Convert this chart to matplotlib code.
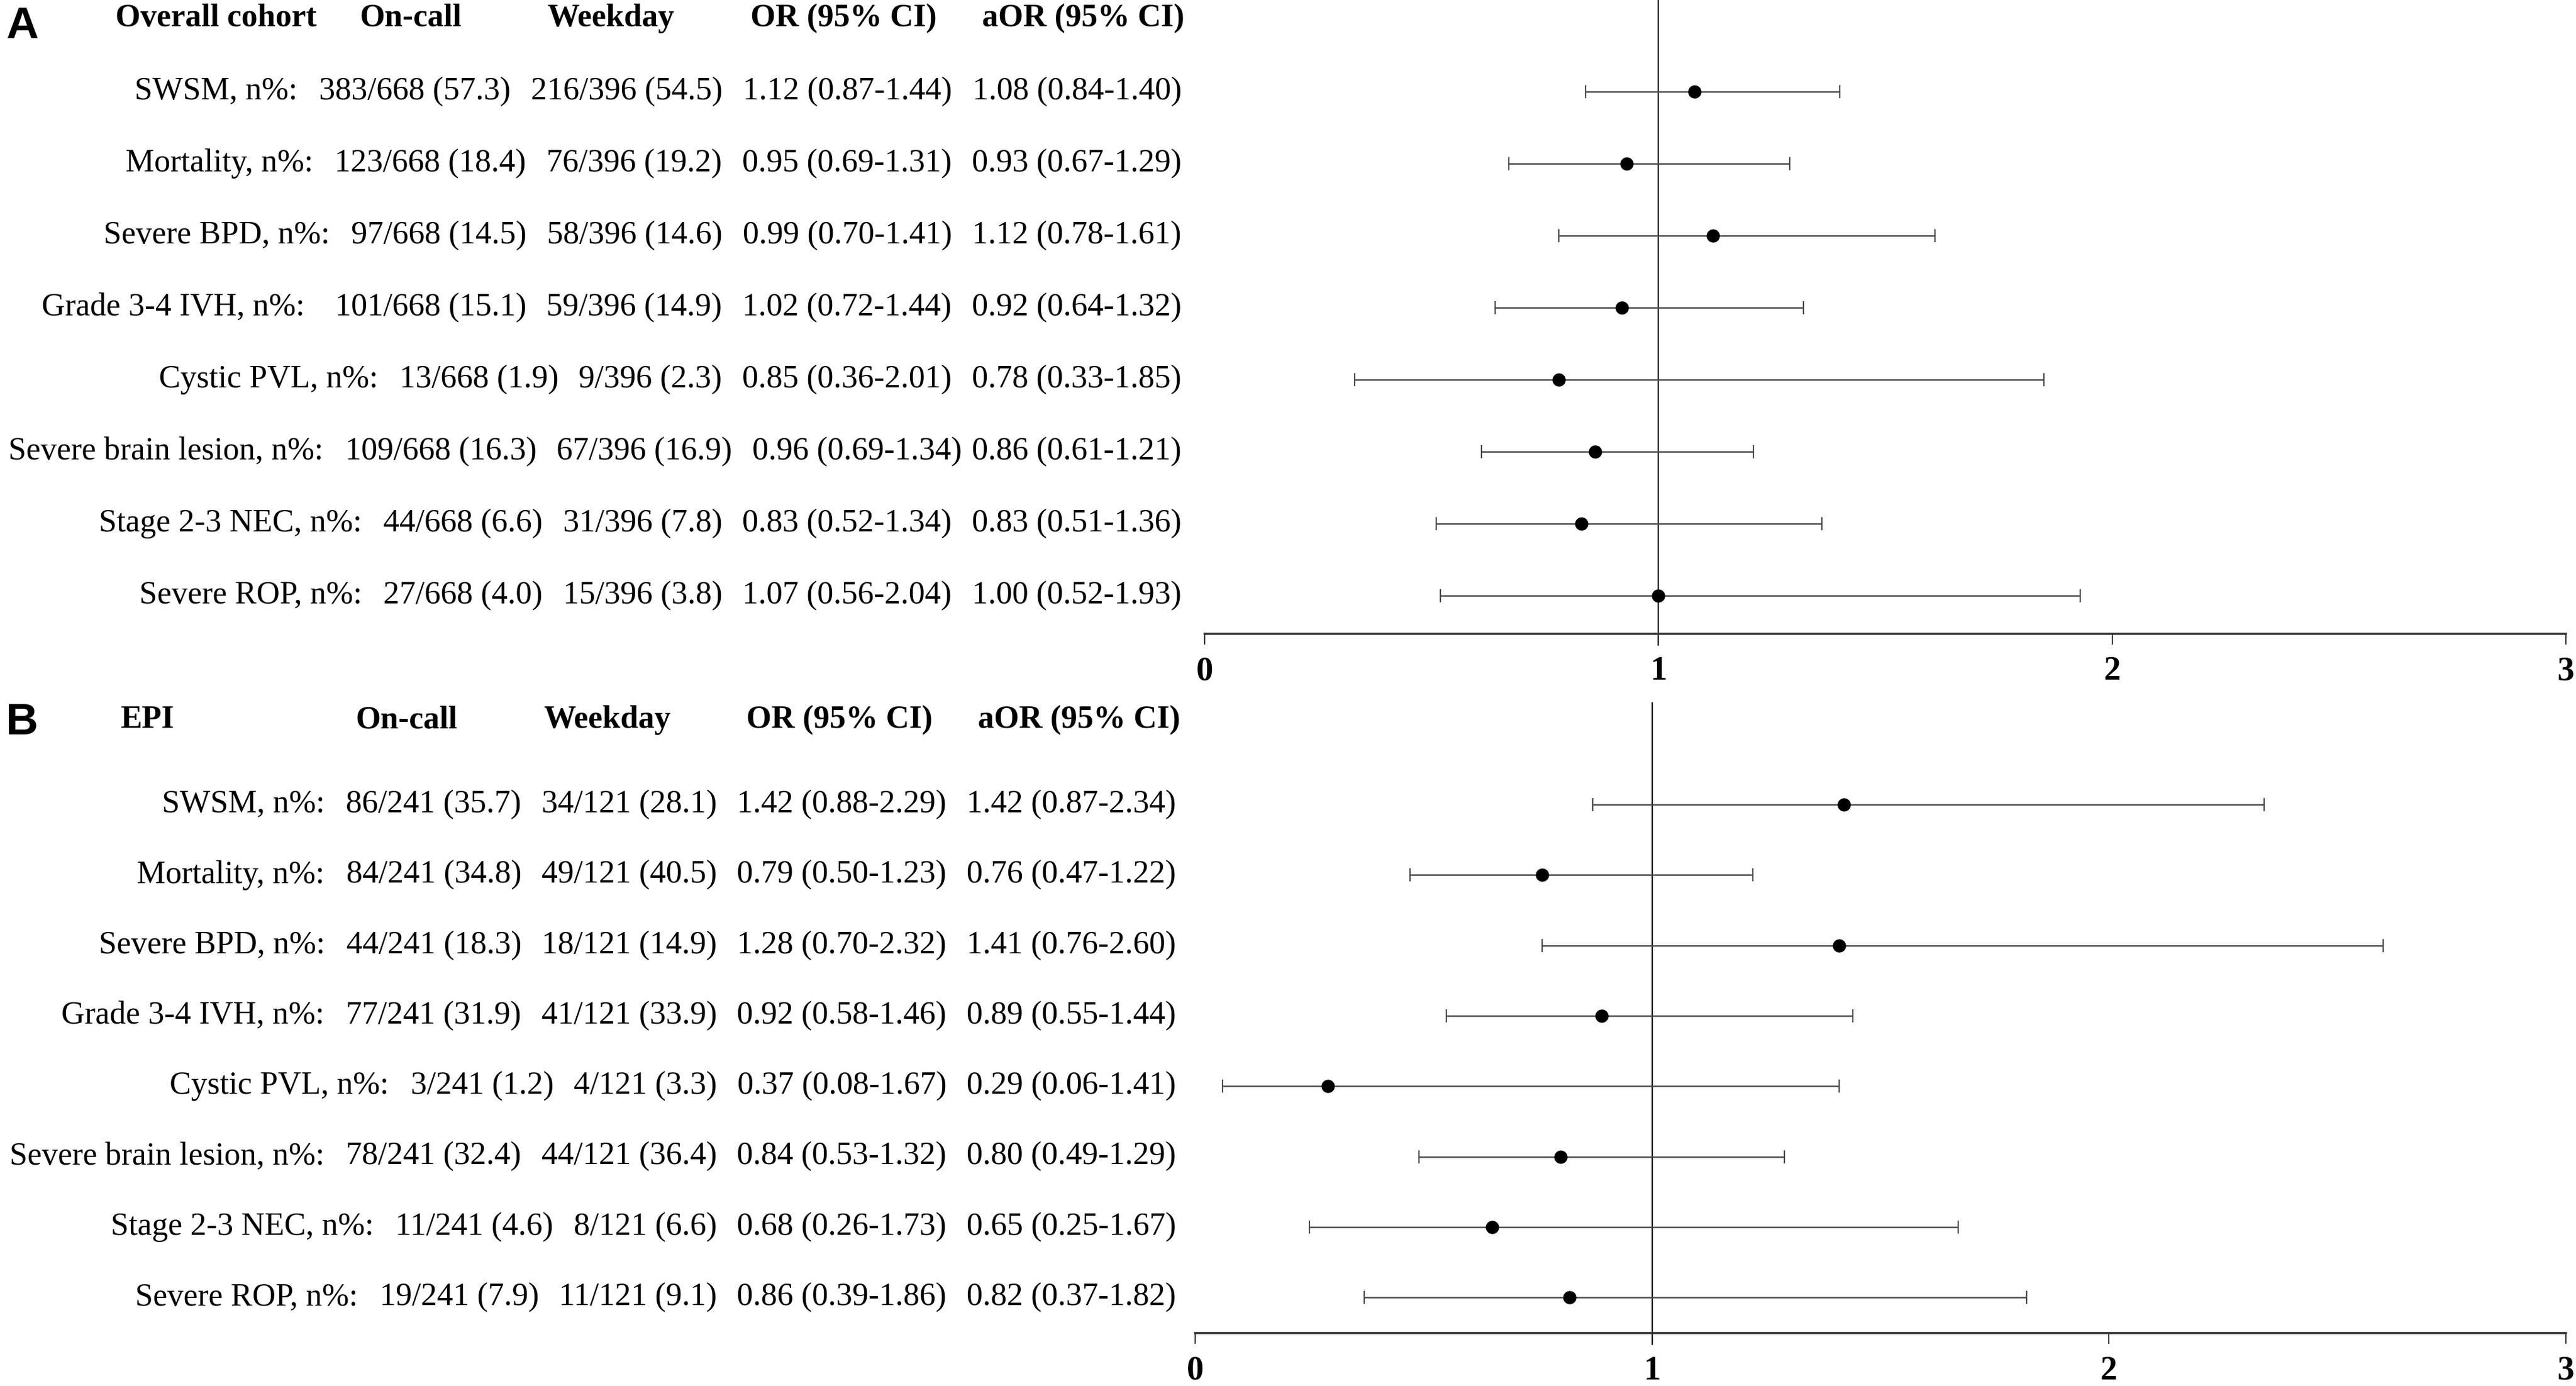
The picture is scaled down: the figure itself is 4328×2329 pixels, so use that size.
import matplotlib
matplotlib.use("Agg")
import matplotlib.pyplot as plt
from matplotlib.transforms import blended_transform_factory

# ---------------- data ----------------
outcomes = ["SWSM", "Mortality", "Severe BPD", "Grade 3-4 IVH", "Cystic PVL",
            "Severe brain lesion", "Stage 2-3 NEC", "Severe ROP"]

# Panel A: overall cohort
a_on_n = [383, 123, 97, 101, 13, 109, 44, 27]
a_on_tot = 668
a_on_pct = [57.3, 18.4, 14.5, 15.1, 1.9, 16.3, 6.6, 4.0]
a_wk_n = [216, 76, 58, 59, 9, 67, 31, 15]
a_wk_tot = 396
a_wk_pct = [54.5, 19.2, 14.6, 14.9, 2.3, 16.9, 7.8, 3.8]
a_or = [1.12, 0.95, 0.99, 1.02, 0.85, 0.96, 0.83, 1.07]
a_or_lo = [0.87, 0.69, 0.70, 0.72, 0.36, 0.69, 0.52, 0.56]
a_or_hi = [1.44, 1.31, 1.41, 1.44, 2.01, 1.34, 1.34, 2.04]
a_aor = [1.08, 0.93, 1.12, 0.92, 0.78, 0.86, 0.83, 1.00]
a_aor_lo = [0.84, 0.67, 0.78, 0.64, 0.33, 0.61, 0.51, 0.52]
a_aor_hi = [1.40, 1.29, 1.61, 1.32, 1.85, 1.21, 1.36, 1.93]

# Panel B: EPI
b_on_n = [86, 84, 44, 77, 3, 78, 11, 19]
b_on_tot = 241
b_on_pct = [35.7, 34.8, 18.3, 31.9, 1.2, 32.4, 4.6, 7.9]
b_wk_n = [34, 49, 18, 41, 4, 44, 8, 11]
b_wk_tot = 121
b_wk_pct = [28.1, 40.5, 14.9, 33.9, 3.3, 36.4, 6.6, 9.1]
b_or = [1.42, 0.79, 1.28, 0.92, 0.37, 0.84, 0.68, 0.86]
b_or_lo = [0.88, 0.50, 0.70, 0.58, 0.08, 0.53, 0.26, 0.39]
b_or_hi = [2.29, 1.23, 2.32, 1.46, 1.67, 1.32, 1.73, 1.86]
b_aor = [1.42, 0.76, 1.41, 0.89, 0.29, 0.80, 0.65, 0.82]
b_aor_lo = [0.87, 0.47, 0.76, 0.55, 0.06, 0.49, 0.25, 0.37]
b_aor_hi = [2.34, 1.22, 2.60, 1.44, 1.41, 1.29, 1.67, 1.82]

x_ticks = [0, 1, 2, 3]
headers_a = ["Overall cohort", "On-call", "Weekday", "OR (95% CI)", "aOR (95% CI)"]
headers_b = ["EPI", "On-call", "Weekday", "OR (95% CI)", "aOR (95% CI)"]

# ---------------- layout ----------------
W, H = 4328, 2329
fig = plt.figure(figsize=(W / 100, H / 100), dpi=100)
renderer = fig.canvas.get_renderer()
SERIF = "Liberation Serif"
FS = 39
GAP = 34


def fx(px):
    return px / W


def fy(py):
    return 1 - py / H


def panel(ax_box, row0_px, step_px, top_px, axis_px,
          on_n, on_tot, on_pct, wk_n, wk_tot, wk_pct,
          orv, orlo, orhi, aor, aorlo, aorhi,
          headers, header_x, header_ha, header_y, text_right, letter, letter_xy,
          label_gaps, last_gaps):
    left, right = ax_box
    ax = fig.add_axes([fx(left), fy(axis_px), fx(right) - fx(left), (axis_px - top_px) / H])
    n = len(outcomes)
    ax.set_xlim(0, 3)
    ax.set_ylim((axis_px - row0_px) / step_px, (top_px - row0_px) / step_px)
    idx = list(range(n))
    xerr = [[a - l for a, l in zip(aor, aorlo)], [h - a for a, h in zip(aor, aorhi)]]
    ax.errorbar(aor, idx, xerr=xerr, fmt="o", color="black", ecolor="#4a4a4a",
                elinewidth=1.8, capsize=8, capthick=1.6, markersize=15, zorder=3)
    ax.axvline(1, ymin=-0.018, ymax=1, color="black", lw=1.6, clip_on=False, zorder=2)
    for s in ["left", "right", "top"]:
        ax.spines[s].set_visible(False)
    ax.spines["bottom"].set_linewidth(2.6)
    ax.spines["bottom"].set_color("#333333")
    ax.set_yticks([])
    ax.set_xticks(x_ticks)
    ax.set_xticklabels([str(t) for t in x_ticks], fontsize=41, fontweight="bold", family=SERIF)
    ax.tick_params(axis="x", length=13, width=1.5, color="#333333", pad=14)
    ax.patch.set_alpha(0)

    tr = blended_transform_factory(fig.transFigure, ax.transData)
    for i in idx:
        cells = [f"{outcomes[i]}, n%:",
                 f"{on_n[i]}/{on_tot} ({on_pct[i]:.1f})",
                 f"{wk_n[i]}/{wk_tot} ({wk_pct[i]:.1f})",
                 f"{orv[i]:.2f} ({orlo[i]:.2f}-{orhi[i]:.2f})",
                 f"{aor[i]:.2f} ({aorlo[i]:.2f}-{aorhi[i]:.2f})"]
        gaps = [label_gaps[i], GAP, GAP, last_gaps[i]]
        xr = text_right
        for k in range(len(cells) - 1, -1, -1):
            t = ax.text(fx(xr), i, cells[k], transform=tr, ha="right", va="center",
                        fontsize=FS, family=SERIF, clip_on=False)
            w = t.get_window_extent(renderer).width
            if k > 0:
                xr = xr - w - gaps[k - 1]
    for h, x, ha in zip(headers, header_x, header_ha):
        fig.text(fx(x), fy(header_y), h, ha=ha, va="center", fontsize=FS,
                 fontweight="bold", family=SERIF)
    fig.text(fx(letter_xy[0]), fy(letter_xy[1]), letter, ha="left", va="center",
             fontsize=54, fontweight="bold", family="Liberation Sans")
    return ax


panel((2024, 4311), 154, 121, 0, 1065,
      a_on_n, a_on_tot, a_on_pct, a_wk_n, a_wk_tot, a_wk_pct,
      a_or, a_or_lo, a_or_hi, a_aor, a_aor_lo, a_aor_hi,
      headers_a, [363, 690, 1026, 1417, 1820], ["center"] * 5, 31, 1985, "A", (10, 44),
      [36, 36, 36, 51, 36, 36, 36, 36], [34, 34, 34, 34, 34, 17, 34, 34])

panel((2008, 4311), 1352, 118.3, 1181, 2240,
      b_on_n, b_on_tot, b_on_pct, b_wk_n, b_wk_tot, b_wk_pct,
      b_or, b_or_lo, b_or_hi, b_aor, b_aor_lo, b_aor_hi,
      headers_b, [202, 683, 1020, 1410, 1813], ["left"] + ["center"] * 4, 1210, 1976, "B", (10, 1214),
      [36] * 8, [34] * 8)

fig.savefig("out.png", dpi=100, facecolor="white")
